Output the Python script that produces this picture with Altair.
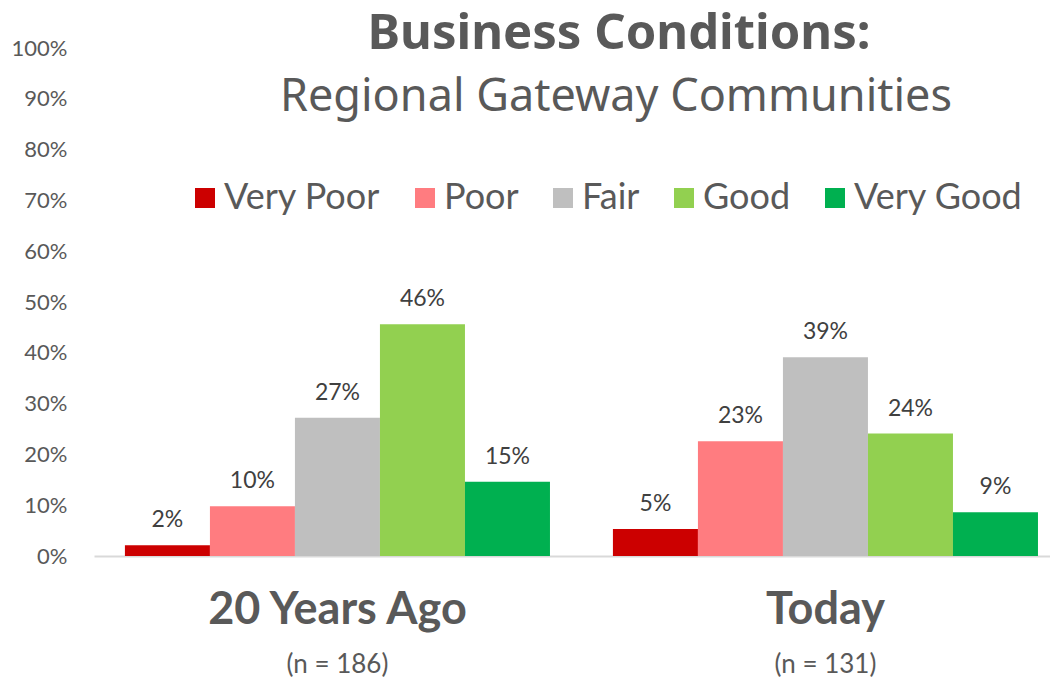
import altair as alt
import pandas as pd

# ---- data ----
groups = ["20 Years Ago", "Today"]
n_labels = ["(n = 186)", "(n = 131)"]
ratings = ["Very Poor", "Poor", "Fair", "Good", "Very Good"]
values_20_years_ago = [0.021, 0.098, 0.272, 0.456, 0.146]
values_today = [0.053, 0.226, 0.391, 0.241, 0.086]
rating_colors = ["#CC0000", "#FF7C80", "#BFBFBF", "#92D050", "#00B050"]
title_text = "Business Conditions:"
subtitle_text = "Regional Gateway Communities"
y_ticks = [i / 10 for i in range(11)]

rows = []
for g, vals in zip(groups, [values_20_years_ago, values_today]):
    for r, v in zip(ratings, vals):
        rows.append({"group": g, "rating": r, "value": v})
df = pd.DataFrame(rows)

FONT = "Lato"
TITLE_FONT = "Noto Sans"
TEXT = "#595959"

n_expr = " : ".join(
    f"datum.value == '{g}' ? '{n}'" for g, n in zip(groups[:-1], n_labels[:-1])
) + f" : '{n_labels[-1]}'"

x_scale = alt.Scale(domain=groups, paddingInner=0.129, paddingOuter=0.044, align=0.72)
y_scale = alt.Scale(domain=[0, 1], nice=False)
off_scale = alt.Scale(domain=ratings, paddingInner=0, paddingOuter=0)

base = alt.Chart(df)

bars = base.mark_bar().encode(
    x=alt.X("group:N", scale=x_scale, sort=groups, title=None,
            axis=alt.Axis(orient="bottom", labelFont=FONT, labelFontWeight="bold",
                          labelFontSize=45, labelColor=TEXT, labelAngle=0,
                          labelPadding=67, labelBaseline="alphabetic", labelLimit=500,
                          ticks=False, tickSize=0, domain=True,
                          domainColor="#D9D9D9", domainWidth=2, grid=False)),
    xOffset=alt.XOffset("rating:N", scale=off_scale, sort=ratings),
    y=alt.Y("value:Q", scale=y_scale, title=None,
            axis=alt.Axis(values=y_ticks, format=".0%", labelFont=FONT,
                          labelFontSize=22, labelColor=TEXT, labelPadding=27,
                          ticks=False, tickSize=0, domain=False, grid=False)),
    color=alt.Color("rating:N", sort=ratings,
                    scale=alt.Scale(domain=ratings, range=rating_colors),
                    legend=alt.Legend(orient="none", legendX=93, legendY=132,
                                      direction="horizontal", title=None,
                                      symbolType="square", symbolSize=400,
                                      symbolStrokeWidth=0, labelFont=FONT,
                                      labelFontSize=36, labelColor=TEXT,
                                      labelOffset=1, columnPadding=26,
                                      labelLimit=500)),
)

labels = base.mark_text(font=FONT, fontSize=23, color="#404040",
                        baseline="alphabetic", dy=-18).encode(
    x=alt.X("group:N", scale=x_scale, sort=groups, title=None,
            axis=alt.Axis(orient="bottom", labelExpr=n_expr, labelFont=FONT,
                          labelFontSize=26, labelColor=TEXT, labelAngle=0,
                          labelPadding=116, labelBaseline="alphabetic",
                          labelLimit=500, ticks=False, tickSize=0,
                          domain=False, grid=False)),
    xOffset=alt.XOffset("rating:N", scale=off_scale, sort=ratings),
    y=alt.Y("value:Q", scale=y_scale),
    text=alt.Text("value:Q", format=".0%"),
)

title1 = alt.Chart(pd.DataFrame({"t": [title_text]})).mark_text(
    font=TITLE_FONT, fontSize=49, fontWeight="bold", color=TEXT,
    baseline="alphabetic", align="center").encode(
    text="t:N", x=alt.value(525), y=alt.value(1))

title2 = alt.Chart(pd.DataFrame({"t": [subtitle_text]})).mark_text(
    font=TITLE_FONT, fontSize=45, color=TEXT,
    baseline="alphabetic", align="center").encode(
    text="t:N", x=alt.value(522), y=alt.value(63))

chart = alt.layer(bars, labels, title1, title2).resolve_axis(x="independent").properties(
    width=956, height=508,
    autosize=alt.AutoSizeParams(type="none"),
    padding={"left": 86, "top": 40, "right": 0, "bottom": 124},
).configure_view(stroke=None)

chart.save("out.html", embed_options={"renderer": "svg", "actions": False})
